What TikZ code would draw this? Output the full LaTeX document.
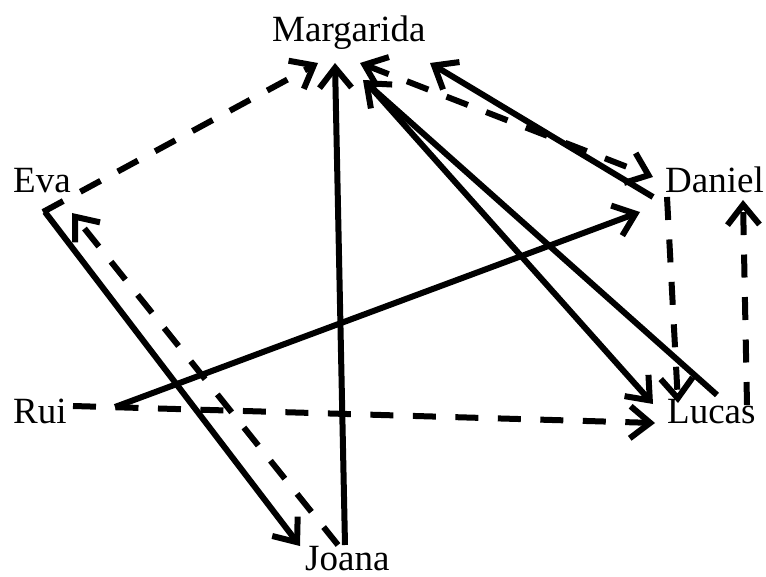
\documentclass[tikz,border=0pt]{standalone}
\usepackage{fontspec}
\setmainfont{Liberation Serif}
\usetikzlibrary{arrows.meta}
\begin{document}
\begin{tikzpicture}[x=1pt,y=-1pt,
  person/.style={anchor=base west,inner sep=0pt,font=\fontsize{37}{44}\selectfont},
  link/.style={line width=6pt,-{Straight Barb[length=20pt,width=32pt]}},
  dlink/.style={link,dash pattern=on 23pt off 19.5pt},
  bidlink/.style={line width=6pt,dash pattern=on 23pt off 19.5pt,{Straight Barb[length=20pt,width=32pt]}-{Straight Barb[length=20pt,width=32pt]}}]
\useasboundingbox (0,0) rectangle (766,577);
\node[person] (marg) at (272,42) {Margarida};
\node[person] (eva) at (13,193) {Eva};
\node[person] (dan) at (665,193) {Daniel};
\node[person] (rui) at (13,423) {Rui};
\node[person] (luc) at (667,423) {Lucas};
\node[person] (joa) at (305,570) {Joana};
% Eva -> Margarida
\draw[dlink] ([shift={(30,19)}]eva.base west) -- ([shift={(46,21)}]marg.base west);
% Joana -> Margarida
\draw[link] ([shift={(40,-25)}]joa.base west) -- ([shift={(63,21)}]marg.base west);
% Eva -> Joana
\draw[link] ([shift={(32,19)}]eva.base west) -- ([shift={(-5,-24)}]joa.base west);
% Joana -> Eva
\draw[dlink] ([shift={(33,-25)}]joa.base west) -- ([shift={(59,20)}]eva.base west);
% Rui -> Daniel
\draw[link] ([shift={(102,-16)}]rui.base west) -- ([shift={(-25,19)}]dan.base west);
% Rui -> Lucas
\draw[dlink] ([shift={(60,-17)}]rui.base west) -- ([shift={(-12,0)}]luc.base west);
% Margarida -> Lucas
\draw[link] ([shift={(94,40)}]marg.base west) -- ([shift={(-14,-19)}]luc.base west);
% Lucas -> Margarida
\draw[link] ([shift={(50,-28)}]luc.base west) -- ([shift={(91,38)}]marg.base west);
% Margarida <-> Daniel
\draw[bidlink] ([shift={(88,21)}]marg.base west) -- ([shift={(-12,-16)}]dan.base west);
% Daniel -> Margarida
\draw[link] ([shift={(-12,4)}]dan.base west) -- ([shift={(158,21)}]marg.base west);
% Daniel -> Lucas
\draw[dlink] ([shift={(2,4)}]dan.base west) -- ([shift={(11,-20)}]luc.base west);
% Lucas -> Daniel
\draw[dlink] ([shift={(80,-18)}]luc.base west) -- ([shift={(78,7)}]dan.base west);
\end{tikzpicture}
\end{document}
